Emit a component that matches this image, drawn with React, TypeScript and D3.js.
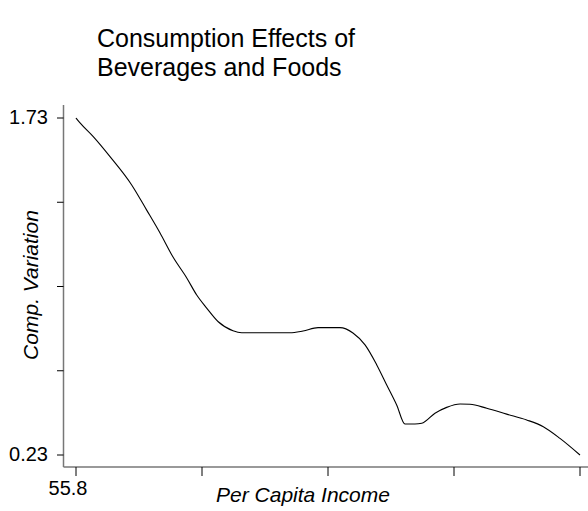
import React, { useEffect, useRef } from 'react';
import * as d3 from 'd3';

// per capita income (x) and compensating variation (y)
const income = [
    55.8, 56.12, 57.17, 58.5, 60.22, 61.41, 62.47, 63.5, 64.59, 65.38, 66.17, 67.09,
    68.26, 68.95, 72.78, 73.82, 75.01, 76.75, 77.78, 78.74, 79.67, 80.46, 81.25,
    81.91, 82.7, 83.24, 84.29, 85.22, 86.28, 87.07, 88.4, 89.98, 91.57, 92.89, 94.21, 95.8,
];
const compVariation = [
    1.73, 1.708, 1.647, 1.558, 1.432, 1.32, 1.218, 1.111, 1.018, 0.942, 0.884, 0.823,
    0.783, 0.774, 0.774, 0.782, 0.797, 0.797, 0.773, 0.72, 0.631, 0.542, 0.453,
    0.368, 0.368, 0.371, 0.416, 0.442, 0.457, 0.456, 0.438, 0.412, 0.386, 0.356, 0.304, 0.23,
];

const xTicks = [55.8, 65.8, 75.8, 85.8, 95.8];
const xTickLabels = ['55.8', '', '', '', ''];
const yTicks = [0.23, 0.605, 0.98, 1.355, 1.73];
const yTickLabels = ['0.23', '', '', '', '1.73'];

const titleLines = ['Consumption Effects of', 'Beverages and Foods'];
const xTitle = 'Per Capita Income';
const yTitle = 'Comp. Variation';

const W = 588;
const H = 511;
const FONT = 'Liberation Sans, Arial, sans-serif';

const App: React.FC = () => {
    const svgRef = useRef<SVGSVGElement>(null);

    useEffect(() => {
        if (!svgRef.current) return;
        const svg = d3.select(svgRef.current);
        svg.selectAll('*').remove();

        const x = d3.scaleLinear().domain([55.8, 95.8]).range([76, 580]);
        const y = d3.scaleLinear().domain([0.23, 1.73]).range([455, 118]);

        const axisX = 63.5;
        const axisY = 467;

        // title
        svg.append('g')
            .selectAll('text')
            .data(titleLines)
            .enter()
            .append('text')
            .attr('x', 97)
            .attr('y', (_, i) => 46.5 + i * 29.5)
            .style('font-family', FONT)
            .style('font-size', '25px')
            .attr('fill', '#000')
            .text(d => d);

        // axis lines
        svg.append('line')
            .attr('x1', axisX).attr('x2', axisX)
            .attr('y1', 105).attr('y2', axisY)
            .attr('stroke', '#777').attr('stroke-width', 1.5);
        svg.append('line')
            .attr('x1', axisX).attr('x2', W)
            .attr('y1', axisY).attr('y2', axisY)
            .attr('stroke', '#777').attr('stroke-width', 1.5);

        // y ticks
        const yt = svg.append('g');
        yTicks.forEach((t, i) => {
            yt.append('line')
                .attr('x1', 57).attr('x2', axisX)
                .attr('y1', y(t)).attr('y2', y(t))
                .attr('stroke', '#000').attr('stroke-width', 1);
            if (yTickLabels[i]) {
                yt.append('text')
                    .attr('x', 48)
                    .attr('y', y(t) + 5.5)
                    .attr('text-anchor', 'end')
                    .style('font-family', FONT)
                    .style('font-size', '20px')
                    .text(yTickLabels[i]);
            }
        });

        // x ticks
        const xt = svg.append('g');
        xTicks.forEach((t, i) => {
            xt.append('line')
                .attr('x1', x(t)).attr('x2', x(t))
                .attr('y1', axisY).attr('y2', axisY + 9)
                .attr('stroke', '#000').attr('stroke-width', 1);
            if (xTickLabels[i]) {
                xt.append('text')
                    .attr('x', x(t) - 8)
                    .attr('y', 495)
                    .attr('text-anchor', 'middle')
                    .style('font-family', FONT)
                    .style('font-size', '20px')
                    .text(xTickLabels[i]);
            }
        });

        // axis titles
        svg.append('text')
            .attr('x', 303)
            .attr('y', 501.5)
            .attr('text-anchor', 'middle')
            .style('font-family', FONT)
            .style('font-size', '21px')
            .style('font-style', 'italic')
            .text(xTitle);
        svg.append('text')
            .attr('transform', `translate(38,285) rotate(-90)`)
            .attr('text-anchor', 'middle')
            .style('font-family', FONT)
            .style('font-size', '21px')
            .style('font-style', 'italic')
            .text(yTitle);

        // curve
        const pts = income.map((v, i) => [v, compVariation[i]] as [number, number]);
        const line = d3.line<[number, number]>()
            .x(d => x(d[0]))
            .y(d => y(d[1]))
            .curve(d3.curveMonotoneX);
        svg.append('path')
            .attr('d', line(pts) as string)
            .attr('fill', 'none')
            .attr('stroke', '#000')
            .attr('stroke-width', 1.1);
    }, []);

    return (
        <svg
            ref={svgRef}
            width={W}
            height={H}
            style={{ position: 'absolute', left: 0, top: 0, background: '#fff' }}
        />
    );
};

export default App;
